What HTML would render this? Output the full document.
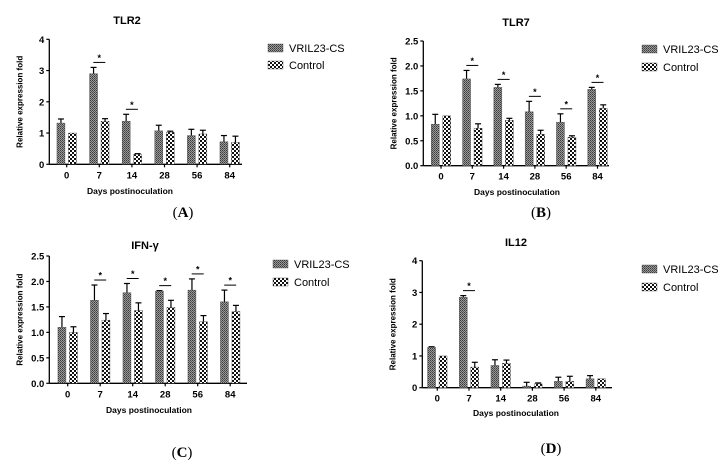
<!DOCTYPE html>
<html><head><meta charset="utf-8"><style>
html,body{margin:0;padding:0;background:#fff;}
svg{display:block;font-family:"Liberation Sans",Arial,sans-serif;}
.serif{font-family:"Liberation Serif",serif;}
</style></head><body>
<svg id="fig" width="728" height="467" viewBox="0 0 728 467" xmlns="http://www.w3.org/2000/svg">
<defs>
<pattern id="pv" width="2" height="2" patternUnits="userSpaceOnUse">
<rect width="2" height="2" fill="#9a9a9a"/><rect width="1" height="1" fill="#3a3a3a"/><rect x="1" y="1" width="1" height="1" fill="#555"/>
</pattern>
<pattern id="pc" width="4" height="4" patternUnits="userSpaceOnUse">
<rect width="4" height="4" fill="#fff"/><rect width="2" height="2" fill="#111"/><rect x="2" y="2" width="2" height="2" fill="#111"/>
</pattern>
</defs>
</svg>
<script>
const categories = ["0","7","14","28","56","84"];
const tlr2Vril = [1.32,2.9,1.38,1.07,0.92,0.72];
const tlr2VrilErr = [0.13,0.2,0.22,0.18,0.2,0.2];
const tlr2Ctrl = [1.0,1.38,0.32,1.03,0.97,0.7];
const tlr2CtrlErr = [0,0.08,0.02,0.03,0.12,0.2];
const tlr2Sig = [false,true,true,false,false,false];
const tlr2Ticks = [0,1,2,3,4];
const tlr7Vril = [0.83,1.74,1.57,1.08,0.87,1.53];
const tlr7VrilErr = [0.2,0.17,0.06,0.21,0.17,0.04];
const tlr7Ctrl = [1.0,0.75,0.91,0.63,0.57,1.15];
const tlr7CtrlErr = [0,0.09,0.04,0.08,0.03,0.07];
const tlr7Sig = [false,true,true,true,true,true];
const tlr7Ticks = ["0.0","0.5","1.0","1.5","2.0","2.5"];
const ifnVril = [1.1,1.63,1.78,1.81,1.83,1.6];
const ifnVrilErr = [0.21,0.3,0.18,0.01,0.22,0.23];
const ifnCtrl = [1.0,1.24,1.43,1.49,1.21,1.41];
const ifnCtrlErr = [0.11,0.13,0.15,0.14,0.12,0.12];
const ifnSig = [false,true,true,true,true,true];
const ifnTicks = ["0.0","0.5","1.0","1.5","2.0","2.5"];
const il12Vril = [1.27,2.85,0.7,0.05,0.2,0.28];
const il12VrilErr = [0.02,0.05,0.18,0.12,0.13,0.1];
const il12Ctrl = [1.0,0.65,0.77,0.12,0.2,0.28];
const il12CtrlErr = [0,0.15,0.1,0.03,0.16,0];
const il12Sig = [false,true,false,false,false,false];
const il12Ticks = [0,1,2,3,4];

const NS="http://www.w3.org/2000/svg";
const svg=document.getElementById('fig');
function mk(tag,attrs,parent,text){const e=document.createElementNS(NS,tag);for(const k in attrs)e.setAttribute(k,attrs[k]);if(text!==undefined)e.textContent=text;(parent||svg).appendChild(e);return e;}

function panel(cfg){
  const g=mk('g',{});
  
  
  const ymax=parseFloat(cfg.ticks[cfg.ticks.length-1]);
  const yS=v=>cfg.y0-(v/ymax)*(cfg.y0-cfg.yTop);
  const xS=i=>cfg.xFirst+i*cfg.step;
  const bw=8,gap=3.5;
  // title
  const t=mk('text',{x:cfg.titleX,y:cfg.titleY,'text-anchor':'middle','font-size':11,'font-weight':'bold'},g,cfg.title);
  
  
  // y axis
  const ya=mk('line',{x1:cfg.ax,y1:cfg.yTop,x2:cfg.ax,y2:cfg.y0,stroke:'#000','stroke-width':1.3},g);
  
  
  cfg.ticks.forEach(tv=>{
    const y=yS(parseFloat(tv));
    mk('line',{x1:cfg.ax-3,y1:y,x2:cfg.ax,y2:y,stroke:'#000','stroke-width':1.2},g);
    const tl=mk('text',{x:cfg.ax-5,y:y+3.5,'text-anchor':'end','font-size':9.5,'font-weight':'bold'},g,String(tv));
    
    
  });
  const yl=mk('text',{transform:`translate(${cfg.ax-27},${(cfg.y0+cfg.yTop)/2}) rotate(-90)`,'text-anchor':'middle','font-size':8,'font-weight':'bold'},g,'Relative expression fold');
  
  
  // x axis
  const xa=mk('line',{x1:cfg.ax,y1:cfg.y0,x2:cfg.xEnd,y2:cfg.y0,stroke:'#000','stroke-width':1.3},g);
  
  
  categories.forEach((c,i)=>{
    const cx=xS(i);
    mk('line',{x1:cx,y1:cfg.y0,x2:cx,y2:cfg.y0+3,stroke:'#000','stroke-width':1.2},g);
    const xl=mk('text',{x:cx,y:cfg.y0+14,'text-anchor':'middle','font-size':9.5,'font-weight':'bold'},g,c);
    
    
    const series=[[cfg.vril,cfg.vrilErr,'url(#pv)',cx-gap/2-bw,'vril'],[cfg.ctrl,cfg.ctrlErr,'url(#pc)',cx+gap/2,'control']];
    series.forEach(s=>{
      const v=s[0][i],e=s[1][i],x=s[3];
      const y=yS(v);
      if(e>0){
        const ye=yS(v+e);
        mk('line',{x1:x+bw/2,y1:y,x2:x+bw/2,y2:ye,stroke:'#000','stroke-width':1.2},g);
        mk('line',{x1:x+1,y1:ye,x2:x+bw-1,y2:ye,stroke:'#000','stroke-width':1.2},g);
      }
      const r=mk('rect',{x:x,y:y,width:bw,height:Math.max(0,cfg.y0-y),fill:s[2],stroke:'#444','stroke-width':0.4},g);
      
      
    });
    if(cfg.sig[i]){
      const top=Math.max(cfg.vril[i]+cfg.vrilErr[i],cfg.ctrl[i]+cfg.ctrlErr[i]);
      const ly=yS(top)-5;
      mk('line',{x1:cx-6,y1:ly,x2:cx+6,y2:ly,stroke:'#000','stroke-width':1},g);
      const st=mk('text',{x:cx,y:ly-1.5,'text-anchor':'middle','font-size':9,'font-weight':'bold'},g,'*');
      
      
    }
  });
  const xt=mk('text',{x:cfg.xtX,y:cfg.xtY,'text-anchor':'middle','font-size':8.5,'font-weight':'bold'},g,'Days postinoculation');
  
  
  const pl=mk('text',{x:cfg.plX,y:cfg.plY,'text-anchor':'middle','font-size':15,'class':'serif'},g);
  
  
  pl.innerHTML='(<tspan font-weight="bold">'+cfg.letter+'</tspan>)';
  // legend
  [['VRIL23-CS','url(#pv)',cfg.lgY1],['Control','url(#pc)',cfg.lgY2]].forEach(L=>{
    const lg=mk('g',{},g);
    
    
    mk('rect',{x:cfg.lgX,y:L[2]-4,width:15,height:8,fill:L[1],stroke:'#444','stroke-width':0.4},lg);
    mk('text',{x:cfg.lgX+21,y:L[2]+4,'font-size':11},lg,L[0]);
  });
}

panel({key:'tlr2',title:'TLR2',letter:'A',titleX:127,titleY:24,ax:49.3,yTop:39.3,y0:164.3,xEnd:242,xFirst:66.7,step:32.6,
  ticks:tlr2Ticks,vril:tlr2Vril,vrilErr:tlr2VrilErr,ctrl:tlr2Ctrl,ctrlErr:tlr2CtrlErr,sig:tlr2Sig,
  xtX:130,xtY:194,plX:183,plY:217,lgX:268,lgY1:48,lgY2:65});
panel({key:'tlr7',title:'TLR7',letter:'B',titleX:516,titleY:26,ax:423.3,yTop:41,y0:165.7,xEnd:609,xFirst:441,step:31.3,
  ticks:tlr7Ticks,vril:tlr7Vril,vrilErr:tlr7VrilErr,ctrl:tlr7Ctrl,ctrlErr:tlr7CtrlErr,sig:tlr7Sig,
  xtX:517,xtY:195,plX:541,plY:217,lgX:642,lgY1:49,lgY2:67});
panel({key:'ifn-gamma',title:'IFN-γ',letter:'C',titleX:145,titleY:249,ax:49.3,yTop:256,y0:383.3,xEnd:247,xFirst:67.7,step:32.5,
  ticks:ifnTicks,vril:ifnVril,vrilErr:ifnVrilErr,ctrl:ifnCtrl,ctrlErr:ifnCtrlErr,sig:ifnSig,
  xtX:149,xtY:413,plX:182,plY:457,lgX:273,lgY1:264,lgY2:282});
panel({key:'il12',title:'IL12',letter:'D',titleX:516,titleY:246,ax:422.3,yTop:260.7,y0:387.7,xEnd:612,xFirst:437.3,step:31.7,
  ticks:il12Ticks,vril:il12Vril,vrilErr:il12VrilErr,ctrl:il12Ctrl,ctrlErr:il12CtrlErr,sig:il12Sig,
  xtX:516,xtY:416,plX:551,plY:453,lgX:642,lgY1:269,lgY2:287});
</script>
</body></html>
